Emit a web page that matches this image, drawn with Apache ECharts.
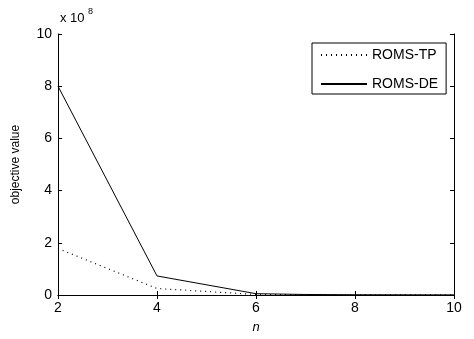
<!DOCTYPE html>
<html>
<head>
<meta charset="utf-8">
<script src="https://cdn.jsdelivr.net/npm/echarts@6/dist/echarts.min.js"></script>
<style>
  html, body { margin: 0; padding: 0; background: #fff; }
  #chart { width: 474px; height: 339px; }
</style>
</head>
<body>
<div id="chart"></div>
<script>
// values in units of 1e8
const nValues = [2, 4, 6, 7, 8, 10];
const romsTP = [1.78, 0.25, 0.02, 0.01, 0.005, 0.003];
const romsDE = [8.0, 0.73, 0.05, 0.02, 0.01, 0.005];
const seriesNames = ['ROMS-TP', 'ROMS-DE'];

const font = 'Liberation Sans, Arial, sans-serif';
const chart = echarts.init(document.getElementById('chart'));

function pairs(xs, ys) {
  return xs.map((x, i) => [x, ys[i]]);
}

const tickStyle = { show: true, inside: true, length: 4, lineStyle: { color: '#000' } };

chart.setOption({
  animation: false,
  grid: { left: 58, right: 20, top: 34, bottom: 42 },
  xAxis: [
    {
      type: 'value', min: 2, max: 10, interval: 2,
      axisLine: { show: true, onZero: false, lineStyle: { color: '#000', width: 1 } },
      axisTick: tickStyle,
      splitLine: { show: false },
      axisLabel: { color: '#000', fontFamily: font, fontSize: 14, margin: 6 },
      name: 'n', nameLocation: 'middle', nameGap: 26,
      nameTextStyle: { color: '#000', fontFamily: font, fontSize: 13, fontStyle: 'italic' }
    },
    {
      type: 'value', position: 'top', min: 2, max: 10, interval: 2,
      axisLine: { show: true, lineStyle: { color: '#000', width: 1 } },
      axisTick: tickStyle, axisLabel: { show: false }, splitLine: { show: false }
    }
  ],
  yAxis: [
    {
      type: 'value', min: 0, max: 10, interval: 2,
      axisLine: { show: true, onZero: false, lineStyle: { color: '#000', width: 1 } },
      axisTick: tickStyle,
      splitLine: { show: false },
      axisLabel: { color: '#000', fontFamily: font, fontSize: 14, margin: 6 },
      name: 'objective value', nameLocation: 'middle', nameGap: 36, nameRotate: 90,
      nameTextStyle: { color: '#000', fontFamily: font, fontSize: 12 }
    },
    {
      type: 'value', position: 'right', min: 0, max: 10, interval: 2,
      axisLine: { show: true, lineStyle: { color: '#000', width: 1 } },
      axisTick: tickStyle, axisLabel: { show: false }, splitLine: { show: false }
    }
  ],
  graphic: [
    {
      type: 'text', left: 60, top: 12,
      style: { text: 'x 10', fill: '#000', font: '13px ' + font }
    },
    {
      type: 'text', left: 88, top: 7,
      style: { text: '8', fill: '#000', font: '9px ' + font }
    }
  ],
  legend: {
    orient: 'vertical', left: 312, top: 43,
    data: seriesNames,
    itemWidth: 46, itemHeight: 12, itemGap: 15,
    itemStyle: { opacity: 0 },
    borderColor: '#000', borderWidth: 1, borderRadius: 0,
    padding: [5, 8, 3, 8],
    textStyle: { color: '#000', fontFamily: font, fontSize: 14 },
    backgroundColor: '#fff'
  },
  series: [
    {
      name: seriesNames[0], type: 'line', data: pairs(nValues, romsTP),
      symbol: 'none', lineStyle: { color: '#000', width: 1.2, type: [1, 4] },
      itemStyle: { color: '#000' }
    },
    {
      name: seriesNames[1], type: 'line', data: pairs(nValues, romsDE),
      symbol: 'none', lineStyle: { color: '#000', width: 1 },
      itemStyle: { color: '#000' }
    }
  ]
});
</script>
</body>
</html>
